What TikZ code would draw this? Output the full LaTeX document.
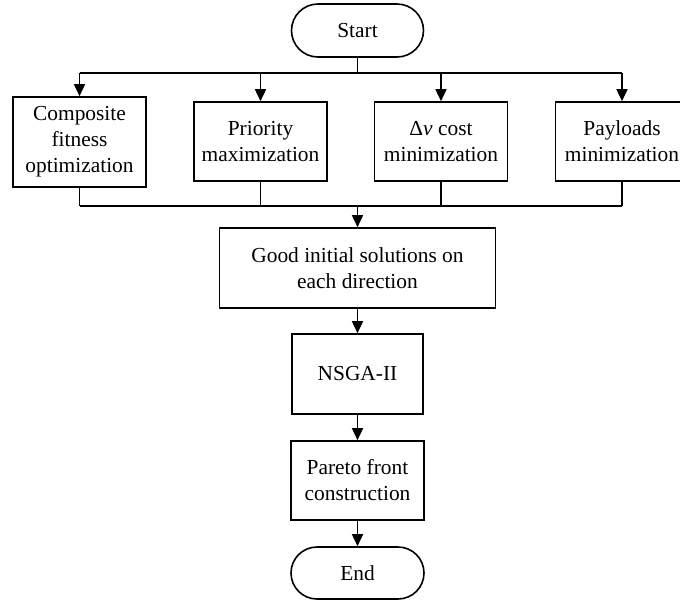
\documentclass[tikz,border=0pt]{standalone}
\usepackage{fontspec}
\setmainfont{Liberation Serif}
\usetikzlibrary{arrows.meta,shapes.misc}
\begin{document}
\begin{tikzpicture}[x=1pt,y=-1pt,
  every node/.style={font=\fontsize{21.4}{26}\selectfont},
  box/.style={draw,line width=1.6pt,rectangle,inner sep=0pt,align=center,minimum width=133pt,minimum height=79pt},
  term/.style={draw,line width=1.6pt,rounded rectangle,inner sep=0pt,align=center,minimum width=132pt,minimum height=53pt},
  conn/.style={line width=1.6pt},
  arr/.style={line width=1.6pt,-{Triangle[length=12pt,width=11pt]}}]
\useasboundingbox (0,0) rectangle (680,603);
\node[term] (start) at (357.5,30.5) {Start};
\node[box,minimum height=90pt] (b1) at (79.5,142) {Composite\\fitness\\optimization};
\node[box] (b2) at (260.5,141.5) {Priority\\maximization};
\node[box] (b3) at (441,141.5) {Δ\textit{v} cost\\minimization};
\node[box] (b4) at (622,141.5) {Payloads\\minimization};
\node[box,minimum width=276pt,minimum height=80pt] (good) at (357.5,268) {Good initial solutions on\\each direction};
\node[box,minimum width=131pt,minimum height=80pt] (nsga) at (357.5,374) {NSGA-II};
\node[box] (pareto) at (357.5,480.5) {Pareto front\\construction};
\node[term,minimum width=133pt,minimum height=52pt] (end) at (357.5,573) {End};
\coordinate (jt) at (357.5,73);
\coordinate (t1) at (79.5,73);
\coordinate (t2) at (260.5,73);
\coordinate (t3) at (441,73);
\coordinate (t4) at (622,73);
\coordinate (jb) at (357.5,206);
\coordinate (u1) at (79.5,206);
\coordinate (u2) at (260.5,206);
\coordinate (u3) at (441,206);
\coordinate (u4) at (622,206);
\draw[conn] (start.south) -- (jt);
\draw[conn] (t1) -- (t4);
\draw[arr] (t1) -- (b1.north);
\draw[arr] (t2) -- (b2.north);
\draw[arr] (t3) -- (b3.north);
\draw[arr] (t4) -- (b4.north);
\draw[conn] (b1.south) -- (u1);
\draw[conn] (b2.south) -- (u2);
\draw[conn] (b3.south) -- (u3);
\draw[conn] (b4.south) -- (u4);
\draw[conn] (u1) -- (u4);
\draw[arr] (jb) -- (good.north);
\draw[arr] (good.south) -- (nsga.north);
\draw[arr] (nsga.south) -- (pareto.north);
\draw[arr] (pareto.south) -- (end.north);
\end{tikzpicture}
\end{document}
